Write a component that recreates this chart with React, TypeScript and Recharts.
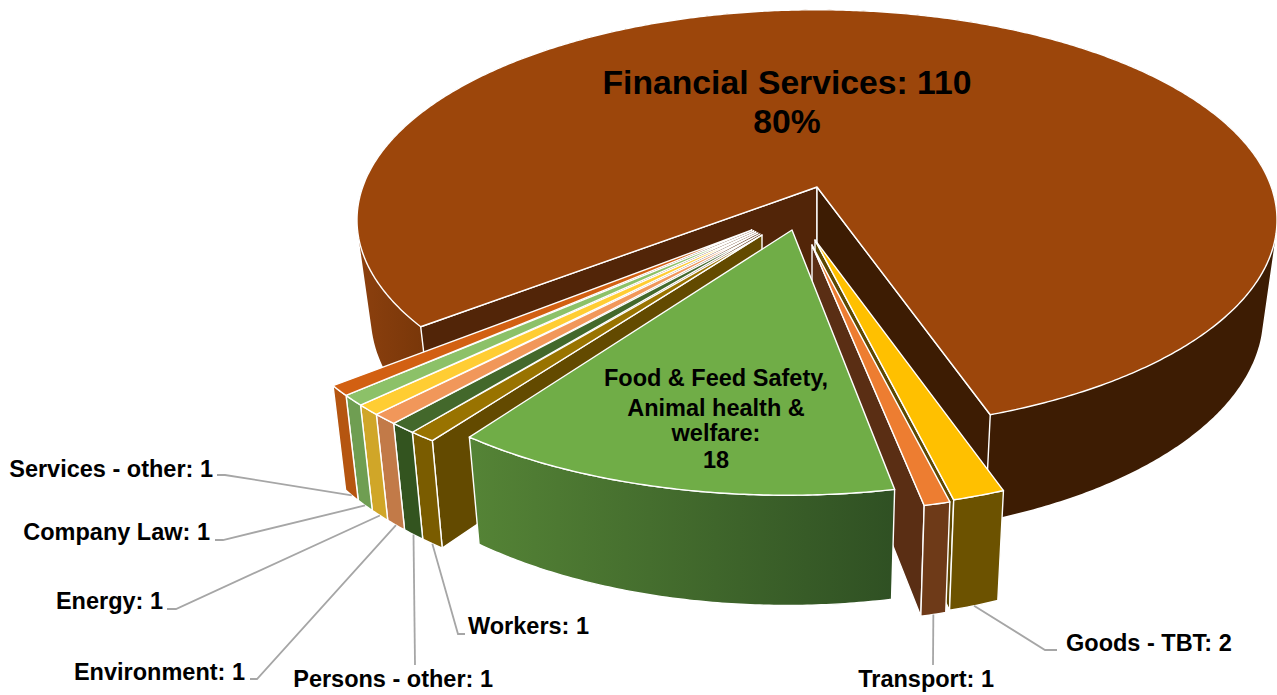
import React from "react";
import { PieChart, Pie } from "recharts";

// ---- data (clockwise from the large slice) ----
const sliceNames = [
  "Financial Services", "Goods - TBT", "Transport", "Food & Feed Safety, Animal health & welfare",
  "Workers", "Persons - other", "Environment", "Energy", "Company Law", "Services - other",
];
const sliceValues = [110, 2, 1, 18, 1, 1, 1, 1, 1, 1];
const foodLabelLines = ["Food & Feed Safety,", "Animal health &", "welfare:"];
const data = sliceNames.map((name, i) => ({ name, value: sliceValues[i] }));

// ---- styles ----
const FINANCIAL = 0, GOODS = 1, TRANSPORT = 2, FOOD = 3, WORKERS = 4;
const topColors = ["#9C460B", "#FFC000", "#ED7D31", "#70AD47", "#997300", "#43682B", "#F1975A", "#FFCD33", "#8CC168", "#D26012"];
const frontColors = ["url(#gFin)", "#6C5200", "#6E3A18", "url(#gFood)", "#7A5C00", "#33541F", "#C27A48", "#D0A628", "#6F9E52", "#B55510"];
const wallColors: Record<number, string> = { [GOODS]: "#5D4700", [TRANSPORT]: "#5A2E14", [WORKERS]: "#634A00" };
const wallSide: Record<number, "start" | "end"> = { [GOODS]: "end", [TRANSPORT]: "end", [WORKERS]: "start" };
// ellipse offset and width of each exploded slice, its perspective shift, and where its apex lands
const explodeX = [0, -2, -5, -30, -5, -5, -5, -5, -5, -5];
const explodeY = [0, 80, 82, 65, 73, 73, 73, 73, 73, 73];
const widthScale = [1, 0.97, 0.97, 1, 1.16, 1.16, 1.16, 1.16, 1.16, 1.16];
const perspective = [0.157, 0.276, 0.27, 0.2, 0.24, 0.24, 0.24, 0.24, 0.24, 0.24];
const apexDX = [0, -2, -5, -25, -55, -57, -59, -61, -63, -65];
const apexDY = [-33, 20, 25, 10, 15, 14, 13, 12, 11, 10];
const SQUASH = 0.457;
const FLOOR_SCALE = 0.97;
const CX = 817, CY = 220, R = 460;
const LEADER = "#A6A6A6";
const FONT = "'Liberation Sans', Arial, sans-serif";
const labelPos: Record<number, any> = {
  9: { x: 213, y: 469, anchor: "end", line: [[225, 475], [217, 475]] },
  8: { x: 210, y: 532, anchor: "end", line: [[223, 540], [215, 540]] },
  7: { x: 163, y: 601, anchor: "end", line: [[176, 609], [167, 609]] },
  6: { x: 245, y: 672, anchor: "end", line: [[257, 679], [250, 679]] },
  5: { x: 493, y: 679, anchor: "end", line: [[415, 665]] },
  4: { x: 468, y: 626, anchor: "start", line: [[458, 634], [465, 634]] },
  2: { x: 994, y: 679, anchor: "end", line: [[933, 665]] },
  1: { x: 1066, y: 643, anchor: "start", line: [[1045, 650], [1057, 650]] },
};

type P = [number, number];
const project = (deg: number, i: number): P => {
  const k = perspective[i];
  const a = (deg * Math.PI) / 180;
  const u = Math.cos(a), v = -Math.sin(a);
  const den = 1 - k * v;
  return [
    CX + explodeX[i] + (R * widthScale[i] * u * Math.sqrt(1 - k * k)) / den,
    CY + explodeY[i] + (R * SQUASH * (v - k)) / den,
  ];
};
const apexOf = (i: number): P => [CX + apexDX[i], CY + apexDY[i]];
const lower = (p: P, i: number): P => {
  const c = CX + apexDX[i];
  return [c + (p[0] - c) * FLOOR_SCALE, p[1] + 84 + 0.053 * p[1]];
};
const arc = (from: number, to: number, i: number): P[] => {
  const n = Math.max(2, Math.ceil(Math.abs(to - from) * 2));
  return Array.from({ length: n + 1 }, (_, j) => project(from + ((to - from) * j) / n, i));
};
const fmt = (p: P) => `${p[0].toFixed(2)},${p[1].toFixed(2)}`;
const toPath = (pts: P[]) => "M" + pts.map(fmt).join("L") + "Z";
// side band as one quad per arc step, so the band also fills the tangents at the ellipse's extremes
const band = (rim: P[], i: number) =>
  rim.slice(1).map((p, j) => {
    const q = rim[j];
    const pts: P[] = [q, p, lower(p, i), lower(q, i)];
    // keep every quad wound the same way so overlaps never cancel
    const area = pts.reduce((s, a, n) => {
      const b = pts[(n + 1) % 4];
      return s + a[0] * b[1] - b[0] * a[1];
    }, 0);
    return toPath(area < 0 ? pts.reverse() : pts);
  }).join(" ");

const Slice = (props: any, layer: "main" | "food") => {
  const i = sliceNames.indexOf(props.name ?? props.payload?.name);
  if ((layer === "food") !== (i === FOOD)) return <g />;
  const { startAngle, endAngle } = props;
  const rim = arc(startAngle, endAngle, i);
  const floor = rim.map((p) => lower(p, i)).reverse();
  const apex = apexOf(i);
  const apexFloor = lower(apex, i);
  const wall = (rimPt: P) => toPath([apex, rimPt, lower(rimPt, i), apexFloor]);
  const edge = { stroke: "#fff", strokeWidth: 1.4, strokeLinejoin: "round" as const };
  return (
    <g>
      <defs>
        <linearGradient id="gFin" gradientUnits="userSpaceOnUse" x1={357} x2={1277} y1={0} y2={0}>
          <stop offset="0" stopColor="#8C400E" />
          <stop offset="0.08" stopColor="#773609" />
          <stop offset="0.6" stopColor="#3D1C03" />
          <stop offset="1" stopColor="#3D1C03" />
        </linearGradient>
        <linearGradient id="gFood" gradientUnits="userSpaceOnUse" x1={468} x2={897} y1={0} y2={0}>
          <stop offset="0" stopColor="#558436" />
          <stop offset="1" stopColor="#2F5023" />
        </linearGradient>
      </defs>
      {i === FINANCIAL ? (
        <>
          <path d={band(rim, i)} fill={frontColors[i]} />
          <path d={wall(rim[0])} fill="#522508" {...edge} />
          <path d={wall(rim[rim.length - 1])} fill="#3D1C03" {...edge} />
        </>
      ) : (
        <>
          {wallSide[i] && (
            <path d={wall(wallSide[i] === "start" ? rim[0] : rim[rim.length - 1])} fill={wallColors[i]} {...edge} />
          )}
          <path d={toPath([...rim, ...floor])} fill={frontColors[i]} {...edge} />
        </>
      )}
      <path d={toPath([apex, ...rim])} fill={topColors[i]} {...edge} />
    </g>
  );
};

const textStyle = { fontFamily: FONT, fontWeight: 700, fill: "#000" };

const renderLabel = (props: any, layer: "main" | "food") => {
  const i = sliceNames.indexOf(props.name ?? props.payload?.name);
  if ((layer === "food") !== (i === FOOD)) return <g />;
  const value = sliceValues[i];
  if (i === FINANCIAL) {
    const pct = Math.round((props.percent ?? 0) * 100);
    return (
      <g>
        <text x={787} y={82} textAnchor="middle" dominantBaseline="central" fontSize={33.7} {...textStyle}>{`${sliceNames[i]}: ${value}`}</text>
        <text x={787} y={121} textAnchor="middle" dominantBaseline="central" fontSize={33.7} {...textStyle}>{`${pct}%`}</text>
      </g>
    );
  }
  if (i === FOOD) {
    const ys = [378, 408, 433, 460];
    return (
      <g>
        {[...foodLabelLines, String(value)].map((t, j) => (
          <text key={j} x={716} y={ys[j]} textAnchor="middle" dominantBaseline="central" fontSize={23.5} {...textStyle}>{t}</text>
        ))}
      </g>
    );
  }
  const pos = labelPos[i];
  const mid = (props.startAngle + props.endAngle) / 2;
  const start = lower(project(mid, i), i);
  const pts = [start, ...pos.line].map((p: number[]) => p.join(",")).join(" ");
  return (
    <g>
      <polyline points={pts} fill="none" stroke={LEADER} strokeWidth={1.8} />
      <text x={pos.x} y={pos.y} textAnchor={pos.anchor} dominantBaseline="central" fontSize={23.5} {...textStyle}>{`${sliceNames[i]}: ${value}`}</text>
    </g>
  );
};

export default function App() {
  return (
    <div style={{ position: "absolute", left: 0, top: 0, width: 1277, height: 695, background: "#fff" }}>
      <PieChart width={1277} height={695} margin={{ top: 0, right: 0, bottom: 0, left: 0 }}>
        <Pie data={data} dataKey="value" nameKey="name" cx={CX} cy={CY} outerRadius={R} startAngle={218} endAngle={-142}
          isAnimationActive={false} stroke="none" labelLine={false}
          shape={(p: any) => Slice(p, "main")} label={(p: any) => renderLabel(p, "main")} />
        <Pie data={data} dataKey="value" nameKey="name" cx={CX} cy={CY} outerRadius={R} startAngle={218} endAngle={-142}
          isAnimationActive={false} stroke="none" labelLine={false}
          shape={(p: any) => Slice(p, "food")} label={(p: any) => renderLabel(p, "food")} />
      </PieChart>
    </div>
  );
}
